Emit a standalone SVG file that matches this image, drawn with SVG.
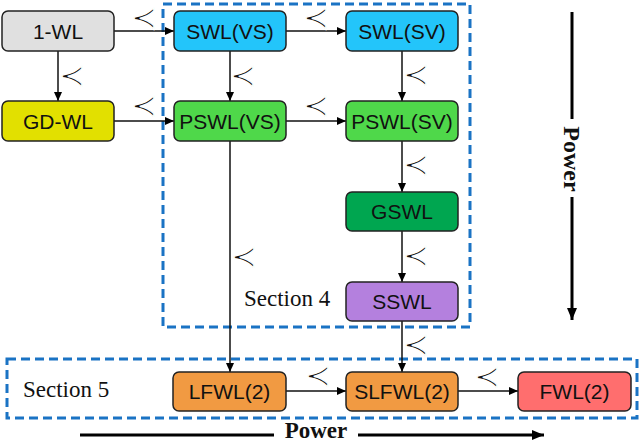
<svg xmlns="http://www.w3.org/2000/svg" width="640" height="443" viewBox="0 0 640 443">
<defs>
<marker id="ah" markerWidth="9" markerHeight="8" refX="9" refY="4" orient="auto" markerUnits="userSpaceOnUse">
<path d="M0,0 L9,4 L0,8 Z" fill="#000"/>
</marker>
<marker id="ahb" markerWidth="12" markerHeight="10" refX="12" refY="5" orient="auto" markerUnits="userSpaceOnUse">
<path d="M0,0 L12,5 L0,10 Z" fill="#000"/>
</marker>
<style>
.n{stroke:#222;stroke-width:1.5}
.t{font-family:"Liberation Sans",Arial,sans-serif;font-size:21px;fill:#111;text-anchor:middle;dominant-baseline:central}
.c{stroke:#111;stroke-width:1.5;fill:none;marker-end:url(#ah)}
.p{font-family:"DejaVu Sans",sans-serif;font-size:31px;fill:#111;stroke:#fff;stroke-width:1.2;text-anchor:middle;dominant-baseline:central}
.sec{fill:none;stroke:#1a73c4;stroke-width:3;stroke-dasharray:9 5}
.s{font-family:"Liberation Serif","Times New Roman",serif;font-size:23px;fill:#111}
.pw{font-family:"Liberation Serif","Times New Roman",serif;font-size:23px;font-weight:bold;fill:#111;text-anchor:middle}
.pl{stroke:#000;stroke-width:3;fill:none}
</style>
</defs>
<rect width="640" height="443" fill="#fff"/>
<g id="section4"><rect class="sec" x="163" y="4" width="307" height="323"/><text class="s" x="244" y="306">Section 4</text></g>
<g id="section5"><rect class="sec" x="7" y="359" width="630" height="59"/><text class="s" x="23" y="397">Section 5</text></g>
<g id="connectors">
<line class="c" x1="114" y1="31" x2="174" y2="31"/>
<line class="c" x1="58" y1="51" x2="58" y2="101"/>
<line class="c" x1="114" y1="121" x2="174" y2="121"/>
<line class="c" x1="230" y1="51" x2="230" y2="101"/>
<line class="c" x1="286" y1="31" x2="346" y2="31"/>
<line class="c" x1="286" y1="121" x2="346" y2="121"/>
<line class="c" x1="402" y1="51" x2="402" y2="101"/>
<line class="c" x1="402" y1="141" x2="402" y2="192"/>
<line class="c" x1="402" y1="231" x2="402" y2="282"/>
<line class="c" x1="402" y1="321" x2="402" y2="372"/>
<line class="c" x1="230" y1="141" x2="230" y2="372"/>
<line class="c" x1="286" y1="391" x2="346" y2="391"/>
<line class="c" x1="458" y1="391" x2="518" y2="391"/>
<text class="p" x="144" y="17">≺</text>
<text class="p" x="72" y="75">≺</text>
<text class="p" x="144" y="105">≺</text>
<text class="p" x="243" y="75">≺</text>
<text class="p" x="316" y="17">≺</text>
<text class="p" x="316" y="105">≺</text>
<text class="p" x="416" y="74">≺</text>
<text class="p" x="416" y="164">≺</text>
<text class="p" x="416" y="255">≺</text>
<text class="p" x="416" y="344">≺</text>
<text class="p" x="244" y="256">≺</text>
<text class="p" x="318" y="375">≺</text>
<text class="p" x="487" y="376">≺</text>
</g>
<g id="n1wl"><rect class="n" x="2" y="11" width="112" height="40" rx="6" fill="#e0e0e0"/><text class="t" x="58" y="31">1-WL</text></g>
<g id="ngdwl"><rect class="n" x="2" y="101" width="112" height="40" rx="6" fill="#e2e000"/><text class="t" x="58" y="121">GD-WL</text></g>
<g id="nswlvs"><rect class="n" x="174" y="11" width="112" height="40" rx="6" fill="#23c5fa"/><text class="t" x="230" y="31">SWL(VS)</text></g>
<g id="npswlvs"><rect class="n" x="174" y="101" width="112" height="40" rx="6" fill="#4fd84a"/><text class="t" x="230" y="121">PSWL(VS)</text></g>
<g id="nswlsv"><rect class="n" x="346" y="11" width="112" height="40" rx="6" fill="#23c5fa"/><text class="t" x="402" y="31">SWL(SV)</text></g>
<g id="npswlsv"><rect class="n" x="346" y="101" width="112" height="40" rx="6" fill="#4fd84a"/><text class="t" x="402" y="121">PSWL(SV)</text></g>
<g id="ngswl"><rect class="n" x="346" y="192" width="112" height="39" rx="6" fill="#00a650"/><text class="t" x="402" y="211.5">GSWL</text></g>
<g id="nsswl"><rect class="n" x="346" y="282" width="112" height="39" rx="6" fill="#b480de"/><text class="t" x="402" y="301.5">SSWL</text></g>
<g id="nlfwl"><rect class="n" x="173" y="372" width="113" height="39" rx="6" fill="#f19a42"/><text class="t" x="229.5" y="391.5">LFWL(2)</text></g>
<g id="nslfwl"><rect class="n" x="346" y="372" width="112" height="39" rx="6" fill="#f19a42"/><text class="t" x="402" y="391.5">SLFWL(2)</text></g>
<g id="nfwl"><rect class="n" x="518" y="372" width="113" height="39" rx="6" fill="#ff6e6e"/><text class="t" x="574.5" y="391.5">FWL(2)</text></g>
<g id="power-h">
<line class="pl" x1="80" y1="435" x2="274" y2="435"/>
<text class="pw" x="316" y="438">Power</text>
<line class="pl" x1="358" y1="435" x2="544" y2="435" marker-end="url(#ahb)"/>
</g>
<g id="power-v">
<line class="pl" x1="572" y1="12" x2="572" y2="119"/>
<text class="pw" transform="translate(572 159) rotate(90)" dominant-baseline="central" style="font-size:24px">Power</text>
<line class="pl" x1="572" y1="197" x2="572" y2="320" marker-end="url(#ahb)"/>
</g>
</svg>
